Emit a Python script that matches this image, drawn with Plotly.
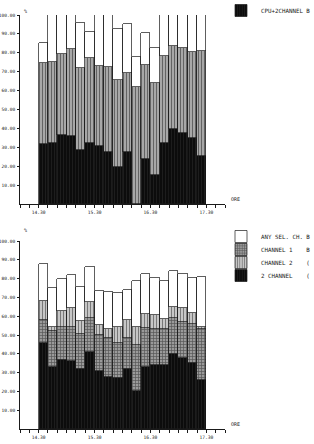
import numpy as np
import plotly.graph_objects as go

# ---- data ----
start_times = ["14.30", "14.40", "14.50", "15.00", "15.10", "15.20", "15.30", "15.40", "15.50",
               "16.00", "16.10", "16.20", "16.30", "16.40", "16.50", "17.00", "17.10", "17.20"]

# top panel: cumulative levels (%)
top_black = [31.9, 32.4, 36.3, 36.1, 28.4, 32.3, 30.9, 27.5, 19.4, 27.5, 0.0, 23.8, 15.5, 32.4, 39.7, 37.4, 34.9, 25.6]
top_striped = [74.6, 75.1, 79.4, 81.8, 71.8, 77.1, 73.0, 72.6, 65.6, 69.5, 61.7, 73.7, 63.9, 78.3, 83.8, 82.4, 80.3, 81.0]
top_total = [85.3, 100, 100, 100, 95.9, 90.8, 100, 100, 92.4, 95.2, 77.8, 90.3, 82.4, 100, 100, 100, 100, 100]

# bottom panel: cumulative levels (%)
bot_2ch = [46.0, 33.0, 36.7, 36.2, 31.9, 41.0, 30.9, 27.8, 27.0, 31.9, 20.4, 33.1, 34.0, 34.0, 39.9, 37.8, 35.3, 26.0]
bot_ch1 = [58.0, 52.0, 54.4, 54.4, 50.5, 58.9, 50.0, 48.2, 45.6, 48.2, 44.7, 53.5, 53.0, 53.0, 59.0, 57.0, 56.0, 53.0]
bot_ch2 = [68.0, 54.4, 62.8, 64.2, 57.6, 67.4, 55.3, 53.2, 54.4, 58.0, 54.4, 61.0, 60.6, 58.4, 64.8, 64.4, 61.7, 54.4]
bot_any = [88.0, 75.0, 79.6, 81.9, 75.4, 86.0, 73.4, 73.0, 72.2, 74.0, 78.9, 82.3, 80.1, 78.7, 84.0, 82.6, 80.5, 81.0]

y_tick_vals = [10, 20, 30, 40, 50, 60, 70, 80, 90, 100]
y_tick_text = ["10.00", "20.00", "30.00", "40.00", "50.00", "60.00", "70.00", "80.00", "90.00", "100.00"]
x_label_times = ["14.30", "15.30", "16.30", "17.30"]

NB = "\u00a0"
top_legend_name = "CPU+2CHANNEL" + NB + "B"
bot_names = ["ANY" + NB + "SEL." + NB + "CH." + NB + "B",
             "CHANNEL" + NB + "1" + NB * 4 + "B",
             "CHANNEL" + NB + "2" + NB * 4 + "(",
             "2" + NB + "CHANNEL" + NB * 4 + "("]


def to_min(t):
    h, m = t.split(".")
    return (int(h) - 14) * 60 + int(m)


xs = [to_min(t) for t in start_times]

FONT = "DejaVu Sans Mono"
INK = "#1a1a1a"

fig = go.Figure()
line = dict(color=INK, width=0.7)


def seg(levels_lo, levels_hi):
    return list(np.array(levels_hi) - np.array(levels_lo))


W, H = 314, 444
L, R = 20, 89
PW = W - L - R

LEG_X = (221 - L) / PW


def leg(center_px):
    return dict(x=LEG_X, y=1 - (center_px - 16) / H, xanchor="left", yanchor="top",
                font=dict(family=FONT, size=5.8, color=INK), bgcolor="rgba(0,0,0,0)", borderwidth=0)


black_pat = dict(shape="|", fgcolor="#3a3a3a", bgcolor="#0c0c0c", size=3, solidity=0.25)
vert_top_pat = dict(shape="|", fgcolor="#111111", bgcolor="#b5b5b5", size=3, solidity=0.45)
grid_pat = dict(shape="+", fgcolor="#111111", bgcolor="#9a9a9a", size=3, solidity=0.4)
vert_bot_pat = dict(shape="|", fgcolor="#222222", bgcolor="#cfcfcf", size=3, solidity=0.4)

# top panel
fig.add_trace(go.Bar(x=xs, y=top_black, width=10, offset=0, xaxis="x", yaxis="y",
                     marker=dict(color="#0c0c0c", line=line, pattern=black_pat),
                     name=top_legend_name, legend="legend", showlegend=True))
fig.add_trace(go.Bar(x=xs, y=seg(top_black, top_striped), width=10, offset=0, xaxis="x", yaxis="y",
                     marker=dict(color="#b5b5b5", line=line, pattern=vert_top_pat),
                     showlegend=False))
fig.add_trace(go.Bar(x=xs, y=seg(top_striped, top_total), width=10, offset=0, xaxis="x", yaxis="y",
                     marker=dict(color="white", line=line), showlegend=False))

# bottom panel
fig.add_trace(go.Bar(x=xs, y=bot_2ch, width=10, offset=0, xaxis="x2", yaxis="y2",
                     marker=dict(color="#0c0c0c", line=line, pattern=black_pat),
                     name=bot_names[3], legend="legend5"))
fig.add_trace(go.Bar(x=xs, y=seg(bot_2ch, bot_ch1), width=10, offset=0, xaxis="x2", yaxis="y2",
                     marker=dict(color="#9a9a9a", line=line, pattern=grid_pat),
                     name=bot_names[1], legend="legend3"))
fig.add_trace(go.Bar(x=xs, y=seg(bot_ch1, bot_ch2), width=10, offset=0, xaxis="x2", yaxis="y2",
                     marker=dict(color="#cfcfcf", line=line, pattern=vert_bot_pat),
                     name=bot_names[2], legend="legend4"))
fig.add_trace(go.Bar(x=xs, y=seg(bot_ch2, bot_any), width=10, offset=0, xaxis="x2", yaxis="y2",
                     marker=dict(color="white", line=line),
                     name=bot_names[0], legend="legend2"))


def dom(px_bottom, px_top):
    return [1 - px_bottom / H, 1 - px_top / H]


x_tickvals = list(range(10, 231, 10))
x_ticktext = [t if t in x_label_times else "" for t in
              ["%d.%02d" % (14 + v // 60, v % 60) for v in x_tickvals]]

xcommon = dict(range=[10, 230], showline=True, linecolor=INK, linewidth=1, ticks="outside",
               ticklen=3, tickwidth=0.8, tickcolor=INK, tickvals=x_tickvals, ticktext=x_ticktext,
               tickfont=dict(family=FONT, size=4.6, color=INK), showgrid=False, zeroline=False,
               fixedrange=True)
ycommon = dict(range=[0, 100], showline=True, linecolor=INK, linewidth=1, ticks="outside",
               ticklen=2, tickwidth=0.8, tickcolor=INK, tickvals=y_tick_vals, ticktext=y_tick_text,
               tickfont=dict(family=FONT, size=4.5, color=INK), showgrid=False, zeroline=False,
               fixedrange=True, ticklabelstandoff=1)

small = dict(family=FONT, size=5, color=INK)
fig.update_layout(
    width=W, height=H, margin=dict(l=L, r=R, t=0, b=0, autoexpand=False),
    paper_bgcolor="white", plot_bgcolor="white",
    barmode="stack", bargap=0,
    xaxis=dict(xcommon, anchor="y"),
    yaxis=dict(ycommon, domain=dom(204, 15), anchor="x"),
    xaxis2=dict(xcommon, anchor="y2"),
    yaxis2=dict(ycommon, domain=dom(429, 241), anchor="x2"),
    legend=leg(12),
    legend2=leg(238),
    legend3=leg(251),
    legend4=leg(264),
    legend5=leg(277),
    showlegend=True,
    annotations=[
        dict(text="%", x=(22 - L) / PW, y=1 - 6 / H, xref="paper", yref="paper", showarrow=False,
             font=small),
        dict(text="ORE", x=(229 - L) / PW, y=dom(204, 15)[0], xref="paper", yref="paper",
             xanchor="left", yanchor="bottom", showarrow=False, font=small),
        dict(text="%", x=(22 - L) / PW, y=1 - 230 / H, xref="paper", yref="paper", showarrow=False,
             font=small),
        dict(text="ORE", x=(229 - L) / PW, y=dom(429, 241)[0], xref="paper", yref="paper",
             xanchor="left", yanchor="bottom", showarrow=False, font=small),
    ],
)

fig.write_html("out.html")
